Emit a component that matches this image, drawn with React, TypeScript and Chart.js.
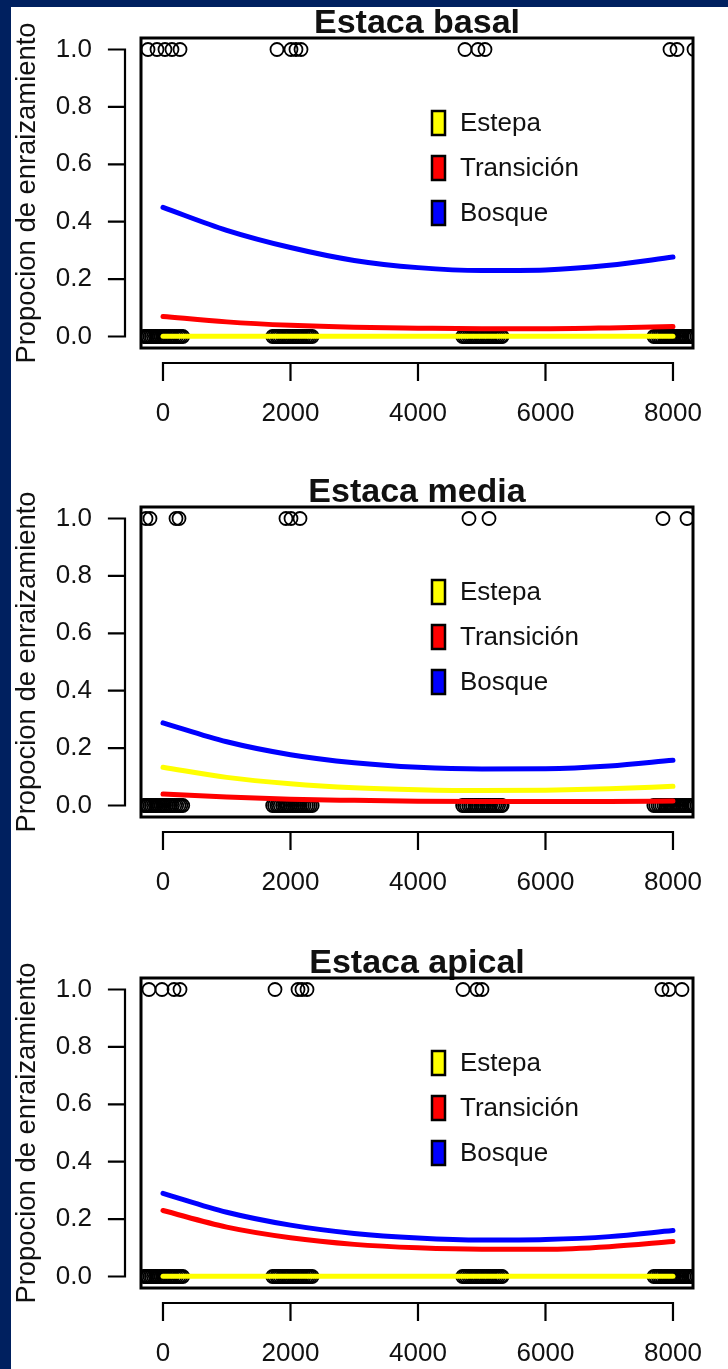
import React, { useEffect, useRef } from "react";
import { Chart, registerables } from "chart.js";

Chart.register(...registerables);

// ---------- data ----------
const xTicks = [0, 2000, 4000, 6000, 8000];
const yTicks = [0, 0.2, 0.4, 0.6, 0.8, 1.0];
const curveX = [0, 1000, 2000, 3000, 4000, 5000, 6000, 7000, 8000];
const seriesNames = ["Estepa", "Transición", "Bosque"];
const seriesColors = ["#FFFF00", "#FF0000", "#0000FF"];
const panelTitles = ["Estaca basal", "Estaca media", "Estaca apical"];
const yAxisTitle = "Propocion de enraizamiento";

// fitted curves (proportion rooted)
const basalEstepa = [0.001, 0.001, 0.001, 0.001, 0.001, 0.001, 0.001, 0.001, 0.001];
const basalTransicion = [0.07, 0.051, 0.039, 0.032, 0.029, 0.027, 0.027, 0.03, 0.035];
const basalBosque = [0.45, 0.37, 0.31, 0.265, 0.24, 0.23, 0.232, 0.248, 0.277];

const mediaEstepa = [0.133, 0.098, 0.076, 0.062, 0.055, 0.052, 0.053, 0.058, 0.067];
const mediaTransicion = [0.04, 0.03, 0.022, 0.018, 0.015, 0.014, 0.014, 0.014, 0.016];
const mediaBosque = [0.288, 0.222, 0.177, 0.149, 0.133, 0.127, 0.128, 0.138, 0.158];

const apicalEstepa = [0.001, 0.001, 0.001, 0.001, 0.001, 0.001, 0.001, 0.001, 0.001];
const apicalTransicion = [0.23, 0.172, 0.135, 0.112, 0.1, 0.095, 0.095, 0.104, 0.122];
const apicalBosque = [0.29, 0.224, 0.179, 0.15, 0.134, 0.127, 0.129, 0.139, 0.16];

// observations: x positions of rooted (y = 1) cuttings
const basalRootedX = [-235, -94, 31, 141, 267, 1788, 2008, 2086, 2165, 4737, 4941, 5051, 7953, 8063, 8330];
const mediaRootedX = [-267, -204, 204, 251, 1929, 2008, 2149, 4800, 5114, 7843, 8220];
const apicalRootedX = [-220, -16, 173, 267, 1757, 2118, 2180, 2259, 4706, 4925, 5004, 7827, 7937, 8141];

// observations: x positions of non-rooted (y = 0) cuttings
const notRootedX = [
  -300, -275, -260, -235, -205, -180, -150, -120, -95, -60, -30, 0, 25, 55, 90, 120, 150, 185, 215, 250, 280, 310,
  1720, 1750, 1785, 1810, 1840, 1875, 1905, 1935, 1960, 1995, 2030, 2060, 2090, 2120, 2155, 2185, 2215, 2250, 2280, 2310, 2340,
  4700, 4730, 4760, 4795, 4825, 4855, 4890, 4920, 4950, 4985, 5015, 5045, 5080, 5110, 5140, 5175, 5205, 5235, 5265, 5300, 5320,
  7700, 7730, 7765, 7795, 7825, 7860, 7890, 7920, 7955, 7985, 8015, 8050, 8080, 8110, 8145, 8175, 8205, 8240, 8270, 8300, 8330,
];

const panels = [
  { title: panelTitles[0], curves: [basalEstepa, basalTransicion, basalBosque], rooted: basalRootedX, notRooted: notRootedX },
  { title: panelTitles[1], curves: [mediaEstepa, mediaTransicion, mediaBosque], rooted: mediaRootedX, notRooted: notRootedX },
  { title: panelTitles[2], curves: [apicalEstepa, apicalTransicion, apicalBosque], rooted: apicalRootedX, notRooted: notRootedX },
];

// ---------- styling ----------
const FONT = "'Liberation Sans', Arial, Helvetica, sans-serif";
const TEXT = "#111111";
const CANVAS_W = 728;
const CANVAS_H = 470;

const rStylePlugin = {
  id: "rStyle",
  afterDraw(chart: any, _args: any, opts: any) {
    const { ctx, chartArea: a, scales } = chart;
    const xs = scales.x;
    const ys = scales.y;
    ctx.save();
    ctx.strokeStyle = "#000";
    // box
    ctx.lineWidth = 3;
    ctx.strokeRect(a.left, a.top, a.right - a.left, a.bottom - a.top);
    // y axis (detached)
    ctx.lineWidth = 2.2;
    ctx.lineCap = "square";
    const ax = a.left - 16;
    ctx.beginPath();
    ctx.moveTo(ax, ys.getPixelForValue(yTicks[0]));
    ctx.lineTo(ax, ys.getPixelForValue(yTicks[yTicks.length - 1]));
    yTicks.forEach((v) => {
      const p = ys.getPixelForValue(v);
      ctx.moveTo(ax, p);
      ctx.lineTo(ax - 16, p);
    });
    // x axis (detached)
    const ay = a.bottom + 15;
    ctx.moveTo(xs.getPixelForValue(xTicks[0]), ay);
    ctx.lineTo(xs.getPixelForValue(xTicks[xTicks.length - 1]), ay);
    xTicks.forEach((v) => {
      const p = xs.getPixelForValue(v);
      ctx.moveTo(p, ay);
      ctx.lineTo(p, ay + 17);
    });
    ctx.stroke();

    // legend
    const items = opts.items || [];
    const lx = a.left + 291;
    let ly = a.top + 85;
    ctx.font = `26px ${FONT}`;
    ctx.textBaseline = "middle";
    ctx.textAlign = "left";
    items.forEach((it: any) => {
      ctx.fillStyle = it.color;
      ctx.fillRect(lx, ly - 12, 13, 24);
      ctx.lineWidth = 2.5;
      ctx.strokeStyle = "#000";
      ctx.strokeRect(lx, ly - 12, 13, 24);
      ctx.fillStyle = TEXT;
      ctx.fillText(it.text, lx + 28, ly + 1);
      ly += 45;
    });
    ctx.restore();
  },
};

function Panel({ panel }: { panel: any }) {
  const ref = useRef<HTMLCanvasElement>(null);
  useEffect(() => {
    if (!ref.current) return;
    const curveSets = panel.curves.map((vals: number[], i: number) => ({
      type: "line",
      label: seriesNames[i],
      data: curveX.map((x, k) => ({ x, y: vals[k] })),
      borderColor: seriesColors[i],
      backgroundColor: seriesColors[i],
      borderWidth: 5,
      borderCapStyle: "round",
      pointRadius: 0,
      fill: false,
      cubicInterpolationMode: "monotone",
      clip: 0,
    }));
    const pointStyle = {
      type: "scatter",
      pointRadius: 6.5,
      pointBorderWidth: 1.8,
      borderColor: "#000",
      backgroundColor: "rgba(0,0,0,0)",
      showLine: false,
      clip: 0,
    };
    const chart = new Chart(ref.current, {
      type: "scatter",
      data: {
        datasets: [
          ...curveSets.slice().reverse(),
          { ...pointStyle, label: "rooted", data: panel.rooted.map((x: number) => ({ x, y: 1 })) },
          { ...pointStyle, label: "not rooted", data: panel.notRooted.map((x: number) => ({ x, y: 0 })) },
        ] as any,
      },
      options: {
        animation: false,
        responsive: false,
        maintainAspectRatio: false,
        devicePixelRatio: 1,
        events: [],
        layout: { padding: { left: 0, right: 35, top: 0, bottom: 0 } },
        plugins: {
          legend: { display: false },
          tooltip: { enabled: false },
          title: {
            display: true,
            text: panel.title,
            fullSize: false,
            color: TEXT,
            font: { family: FONT, size: 34, weight: "bold", lineHeight: "26px" },
            padding: { top: 11, bottom: 1 },
          },
          rStyle: { items: seriesNames.map((n, i) => ({ text: n, color: seriesColors[i] })) },
        } as any,
        scales: {
          x: {
            type: "linear",
            min: -345,
            max: 8314,
            afterBuildTicks: (s: any) => {
              s.ticks = xTicks.map((v) => ({ value: v }));
            },
            afterFit: (s: any) => {
              s.height = CANVAS_H - 348;
              s.paddingLeft = 0;
              s.paddingRight = 0;
            },
            grid: { display: false, drawTicks: false },
            border: { display: false },
            ticks: {
              padding: 50,
              color: TEXT,
              font: { family: FONT, size: 26 },
              maxRotation: 0,
              autoSkip: false,
              callback: (v: any) => String(v),
            },
          },
          y: {
            type: "linear",
            min: -0.04,
            max: 1.04,
            afterBuildTicks: (s: any) => {
              s.ticks = yTicks.map((v) => ({ value: v }));
            },
            afterFit: (s: any) => {
              s.width = 141;
              s.paddingTop = 0;
              s.paddingBottom = 0;
            },
            grid: { display: false, drawTicks: false },
            border: { display: false },
            ticks: {
              padding: 49,
              color: TEXT,
              font: { family: FONT, size: 26 },
              autoSkip: false,
              callback: (v: any) => Number(v).toFixed(1),
            },
            title: {
              display: true,
              text: yAxisTitle,
              color: TEXT,
              font: { family: FONT, size: 27.4, lineHeight: "26px" },
              padding: { top: 14, bottom: 0 },
            },
          },
        },
      } as any,
      plugins: [rStylePlugin as any],
    });
    return () => chart.destroy();
  }, [panel]);
  return (
    <canvas
      ref={ref}
      width={CANVAS_W}
      height={CANVAS_H}
      style={{ display: "block", width: CANVAS_W, height: CANVAS_H }}
    />
  );
}

export default function App() {
  const tops = [0, 469, 940];
  return (
    <div
      style={{
        position: "fixed",
        left: 0,
        top: 0,
        width: 728,
        height: 1369,
        overflow: "hidden",
        background: "#00205f",
      }}
    >
      <div
        style={{
          position: "absolute",
          left: 11,
          top: 7,
          right: 0,
          bottom: 0,
          background: "#ffffff",
        }}
      />
      {panels.map((p, i) => (
        <div key={i} style={{ position: "absolute", left: 0, top: tops[i], width: CANVAS_W, height: CANVAS_H }}>
          <Panel panel={p} />
        </div>
      ))}
    </div>
  );
}
